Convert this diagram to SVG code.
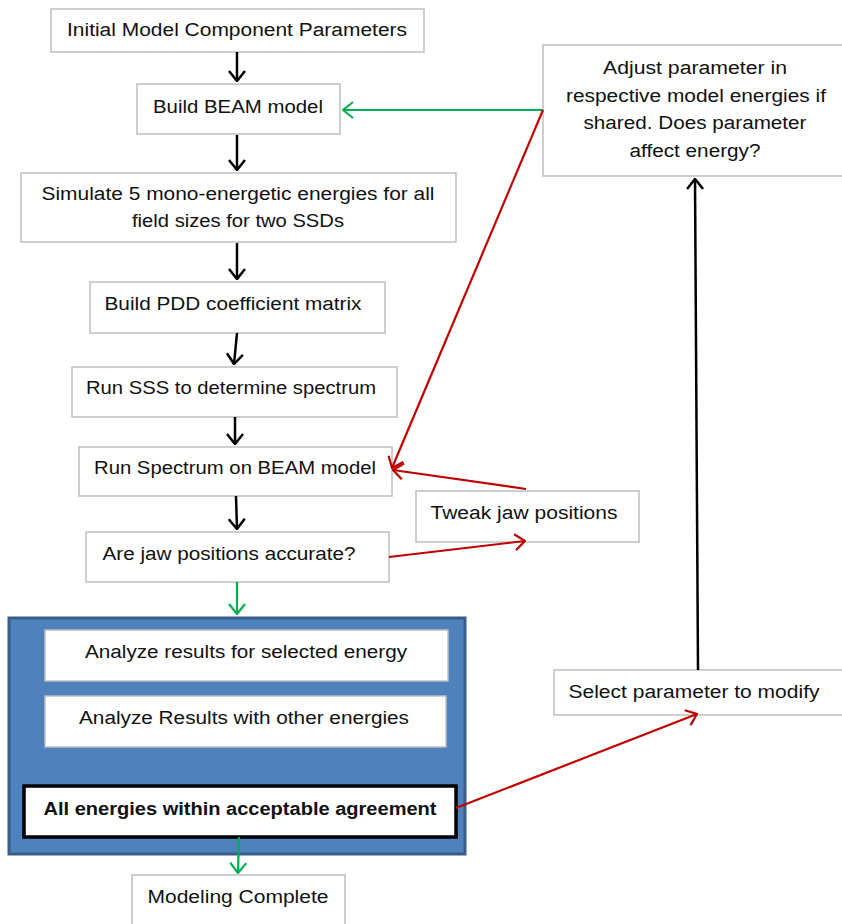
<svg xmlns="http://www.w3.org/2000/svg" width="842" height="924" viewBox="0 0 842 924">
<defs>
<style>
.box{fill:#fff;stroke:#BFBFBF;stroke-width:1.5}
.t{font-family:"Liberation Sans",Arial,sans-serif;font-size:18px;fill:#111;text-anchor:middle}
.b{font-weight:bold}
.k{stroke:#000;stroke-width:2.5;fill:none}
.r{stroke:#C00000;stroke-width:2.2;fill:none}
.g{stroke:#00B050;stroke-width:2.2;fill:none}
</style>
<marker id="ak" viewBox="0 0 12 18" refX="11" refY="9" markerWidth="12" markerHeight="18" orient="auto" markerUnits="userSpaceOnUse"><path d="M1,1 L11,9 L1,17" fill="none" stroke="#000" stroke-width="2.5"/></marker>
<marker id="ar" viewBox="0 0 12 18" refX="11" refY="9" markerWidth="12" markerHeight="18" orient="auto" markerUnits="userSpaceOnUse"><path d="M1,1 L11,9 L1,17" fill="none" stroke="#C00000" stroke-width="2.2"/></marker>
<marker id="ag" viewBox="0 0 12 18" refX="11" refY="9" markerWidth="12" markerHeight="18" orient="auto" markerUnits="userSpaceOnUse"><path d="M1,1 L11,9 L1,17" fill="none" stroke="#00B050" stroke-width="2.2"/></marker>
</defs>
<rect width="842" height="924" fill="#fff"/>

<g id="container">
<rect x="9" y="618" width="456" height="236" fill="#4F81BD" stroke="#385D8A" stroke-width="3"/>
</g>

<g id="n1"><rect class="box" x="51" y="9" width="373" height="43"/><text class="t" x="237" y="36" textLength="340" lengthAdjust="spacingAndGlyphs">Initial Model Component Parameters</text></g>
<g id="n2"><rect class="box" x="137" y="84" width="203" height="50"/><text class="t" x="238" y="113" textLength="170" lengthAdjust="spacingAndGlyphs">Build BEAM model</text></g>
<g id="n3"><rect class="box" x="21" y="173" width="435" height="69"/><text class="t" x="238" y="200" textLength="393" lengthAdjust="spacingAndGlyphs">Simulate 5 mono-energetic energies for all</text><text class="t" x="238" y="227" textLength="212" lengthAdjust="spacingAndGlyphs">field sizes for two SSDs</text></g>
<g id="n4"><rect class="box" x="90" y="282" width="295" height="51"/><text class="t" x="233" y="310" textLength="257" lengthAdjust="spacingAndGlyphs">Build PDD coefficient matrix</text></g>
<g id="n5"><rect class="box" x="72" y="367" width="325" height="50"/><text class="t" x="231" y="394" textLength="290" lengthAdjust="spacingAndGlyphs">Run SSS to determine spectrum</text></g>
<g id="n6"><rect class="box" x="79" y="447" width="313" height="49"/><text class="t" x="235" y="474" textLength="282" lengthAdjust="spacingAndGlyphs">Run Spectrum on BEAM model</text></g>
<g id="n7"><rect class="box" x="86" y="532" width="303" height="50"/><text class="t" x="229" y="560" textLength="253" lengthAdjust="spacingAndGlyphs">Are jaw positions accurate?</text></g>
<g id="n8"><rect class="box" x="543" y="45" width="305" height="131"/><text class="t" x="695" y="74" textLength="184" lengthAdjust="spacingAndGlyphs">Adjust parameter in</text><text class="t" x="696" y="102" textLength="260" lengthAdjust="spacingAndGlyphs">respective model energies if</text><text class="t" x="695" y="129" textLength="223" lengthAdjust="spacingAndGlyphs">shared. Does parameter</text><text class="t" x="695" y="157" textLength="131" lengthAdjust="spacingAndGlyphs">affect energy?</text></g>
<g id="n9"><rect class="box" x="416" y="491" width="223" height="51"/><text class="t" x="524" y="519" textLength="187" lengthAdjust="spacingAndGlyphs">Tweak jaw positions</text></g>
<g id="n10"><rect class="box" x="554" y="670" width="294" height="45"/><text class="t" x="694" y="698" textLength="251" lengthAdjust="spacingAndGlyphs">Select parameter to modify</text></g>
<g id="n11"><rect class="box" x="45" y="630" width="403" height="51"/><text class="t" x="246" y="658" textLength="322" lengthAdjust="spacingAndGlyphs">Analyze results for selected energy</text></g>
<g id="n12"><rect class="box" x="45" y="696" width="401" height="51"/><text class="t" x="244" y="724" textLength="330" lengthAdjust="spacingAndGlyphs">Analyze Results with other energies</text></g>
<g id="n13"><rect x="24" y="786" width="432" height="51" fill="#fff" stroke="#000" stroke-width="3.5"/><text class="t b" x="240" y="815" textLength="393" lengthAdjust="spacingAndGlyphs">All energies within acceptable agreement</text></g>
<g id="n14"><rect class="box" x="132" y="875" width="213" height="60"/><text class="t" x="238" y="903" textLength="181" lengthAdjust="spacingAndGlyphs">Modeling Complete</text></g>

<g id="connectors">
<line class="k" x1="237" y1="52" x2="237" y2="81" marker-end="url(#ak)"/>
<line class="k" x1="237" y1="135" x2="237" y2="170" marker-end="url(#ak)"/>
<line class="k" x1="237" y1="243" x2="237" y2="279" marker-end="url(#ak)"/>
<line class="k" x1="237" y1="333" x2="234" y2="364" marker-end="url(#ak)"/>
<line class="k" x1="235" y1="417" x2="235" y2="444" marker-end="url(#ak)"/>
<line class="k" x1="236" y1="496" x2="237" y2="529" marker-end="url(#ak)"/>
<line class="g" x1="237" y1="582" x2="237" y2="614" marker-end="url(#ag)"/>
<line class="g" x1="239" y1="837" x2="238" y2="873" marker-end="url(#ag)"/>
<line class="g" x1="543" y1="110" x2="343" y2="110" marker-end="url(#ag)"/>
<line class="r" x1="543" y1="110" x2="392" y2="468" marker-end="url(#ar)"/>
<line class="r" x1="526" y1="489" x2="393" y2="470" marker-end="url(#ar)"/>
<line class="r" x1="389" y1="557" x2="525" y2="541" marker-end="url(#ar)"/>
<line class="r" x1="456" y1="808" x2="697" y2="714" marker-end="url(#ar)"/>
<line class="k" x1="698" y1="670" x2="695" y2="179" marker-end="url(#ak)"/>
</g>
</svg>
